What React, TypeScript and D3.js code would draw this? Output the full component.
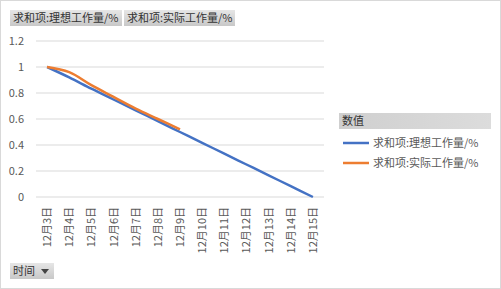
import React from "react";
import * as d3 from "d3";

const categories = ["12月3日","12月4日","12月5日","12月6日","12月7日","12月8日","12月9日","12月10日","12月11日","12月12日","12月13日","12月14日","12月15日"];
const idealValues = [1, 0.92, 0.833, 0.75, 0.667, 0.583, 0.5, 0.417, 0.333, 0.25, 0.167, 0.083, 0];
const actualValues = [1, 0.96, 0.86, 0.77, 0.68, 0.6, 0.52];
const yTicks = [0, 0.2, 0.4, 0.6, 0.8, 1, 1.2];
const seriesNames = ["求和项:理想工作量/%", "求和项:实际工作量/%"];
const colors = ["#4472C4", "#ED7D31"];

const FONT = "'Noto Sans CJK SC', 'Microsoft YaHei', sans-serif";

export default function App() {
  const W = 501, H = 289;
  const x = d3.scaleBand<string>().domain(categories).range([36, 324]);
  const y = d3.scaleLinear().domain([0, 1.2]).range([197, 41]);
  const cx = (c: string) => (x(c) ?? 0) + x.bandwidth() / 2;
  const line = d3.line<number>().x((_, i) => cx(categories[i])).y((d) => y(d)).curve(d3.curveCatmullRom.alpha(0.5));

  return (
    <svg width={W} height={H} style={{ position: "absolute", left: 0, top: 0, fontFamily: FONT }}>
      <defs>
        <linearGradient id="btn" x1="0" y1="0" x2="0" y2="1">
          <stop offset="0" stopColor="#e6e6e6" />
          <stop offset="1" stopColor="#c8c8c8" />
        </linearGradient>
        <linearGradient id="hdr" x1="0" y1="0" x2="1" y2="0">
          <stop offset="0" stopColor="#cfcfcf" />
          <stop offset="1" stopColor="#dcdcdc" />
        </linearGradient>
      </defs>
      <rect x={0.5} y={0.5} width={W - 1} height={H - 1} fill="#fff" stroke="#d9d9d9" />
      {/* field buttons */}
      <rect x={10} y={10} width={112} height={16} fill="url(#btn)" />
      <text x={13} y={22} fontSize={11} fill="#333">{seriesNames[0]}</text>
      <rect x={124} y={10} width={111} height={16} fill="url(#btn)" />
      <text x={127} y={22} fontSize={11} fill="#333">{seriesNames[1]}</text>

      {/* gridlines & y labels */}
      {yTicks.map((t) => (
        <g key={t}>
          <line x1={36} x2={324} y1={y(t)} y2={y(t)} stroke="#d9d9d9" />
          <text x={24} y={y(t) + 4} textAnchor="end" fontSize={11} fill="#595959">{t}</text>
        </g>
      ))}

      {/* x labels */}
      {categories.map((c) => (
        <text key={c} transform={`translate(${cx(c) + 4},${207}) rotate(-90)`} textAnchor="end" fontSize={11} fill="#595959">{c}</text>
      ))}

      {/* lines */}
      <path d={line(idealValues) ?? ""} fill="none" stroke={colors[0]} strokeWidth={2.5} strokeLinejoin="round" />
      <path d={line(actualValues) ?? ""} fill="none" stroke={colors[1]} strokeWidth={2.5} strokeLinejoin="round" />

      {/* legend */}
      <rect x={339} y={113} width={152} height={16} fill="url(#hdr)" />
      <text x={342} y={125} fontSize={11} fill="#333">数值</text>
      {seriesNames.map((n, i) => (
        <g key={n}>
          <line x1={343} x2={369} y1={143 + i * 20} y2={143 + i * 20} stroke={colors[i]} strokeWidth={2.5} />
          <text x={373} y={147 + i * 20} fontSize={11} fill="#595959">{n}</text>
        </g>
      ))}

      {/* time button */}
      <rect x={10} y={263} width={44} height={16} fill="url(#btn)" />
      <text x={13} y={275} fontSize={11} fill="#333">时间</text>
      <path d="M41,269 L49,269 L45,274 Z" fill="#444" />
    </svg>
  );
}
